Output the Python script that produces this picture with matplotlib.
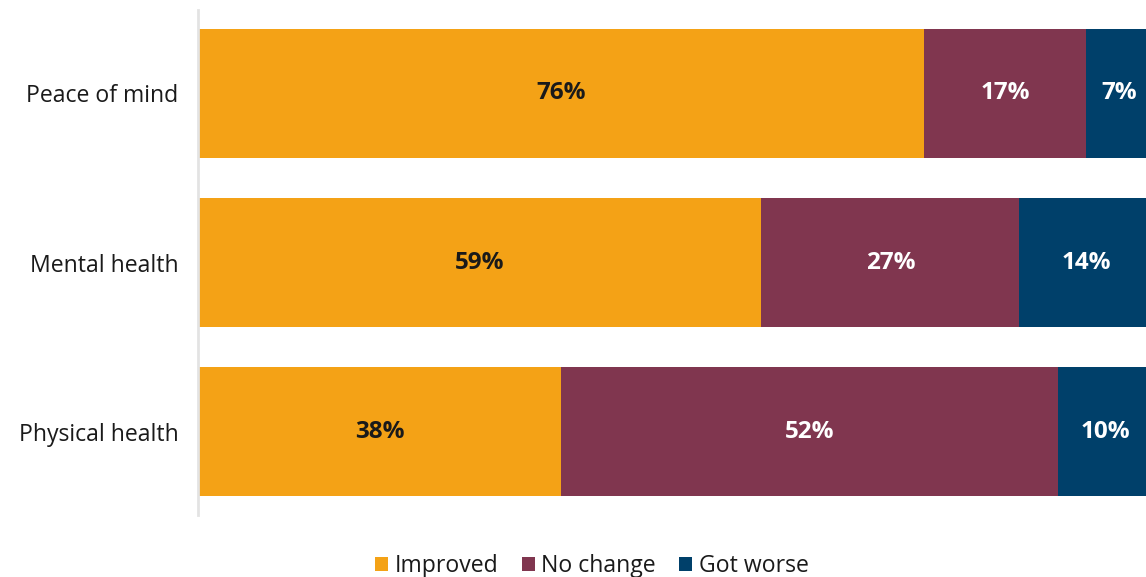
import numpy as np
import matplotlib
matplotlib.use('Agg')
import matplotlib.pyplot as plt
from matplotlib.patches import Patch

# survey results, share of respondents per outcome (%)
categories = ['Peace of mind', 'Mental health', 'Physical health']
improved = [76, 59, 38]
no_change = [17, 27, 52]
got_worse = [7, 14, 10]

series_names = ['Improved', 'No change', 'Got worse']
series_colours = ['#F4A216', '#80364F', '#00406A']
label_colours = ['#1a1a1a', 'white', 'white']

plt.rcParams['font.family'] = ['Open Sans', 'DejaVu Sans']

fig = plt.figure(figsize=(11.46, 5.77), dpi=100)
ax = fig.add_axes([198 / 1146, 62 / 577, 955 / 1146, 505 / 577])

y = np.arange(len(categories))[::-1]
left = np.zeros(len(categories))

for values, colour, text_colour in zip([improved, no_change, got_worse], series_colours, label_colours):
    vals = np.array(values, dtype=float)
    bars = ax.barh(y, vals, left=left, height=0.765, color=colour, edgecolor='none')
    ax.bar_label(bars, labels=[f'{v:.0f}%' for v in vals], label_type='center',
                 color=text_colour, fontsize=17.5, fontweight='bold')
    left += vals

ax.set_xlim(0, 100)
ax.set_ylim(-0.494, 2.494)
ax.set_yticks(y)
ax.set_yticklabels(categories, fontsize=16.6, color='#1a1a1a')
ax.tick_params(axis='y', length=0, pad=14)
ax.set_xticks([])

for side in ['top', 'right', 'bottom']:
    ax.spines[side].set_visible(False)
ax.spines['left'].set_color('#e3e3e3')
ax.spines['left'].set_linewidth(2)

handles = [Patch(facecolor=c, edgecolor='none') for c in series_colours]
fig.legend(handles, series_names, loc='center', bbox_to_anchor=(592 / 1146, 1 - 566 / 577),
           ncol=3, frameon=False, fontsize=16.6, handlelength=0.55, handleheight=0.55,
           handletextpad=0.3, columnspacing=1.0, labelcolor='#1a1a1a')

fig.savefig('out.png', dpi=100)
